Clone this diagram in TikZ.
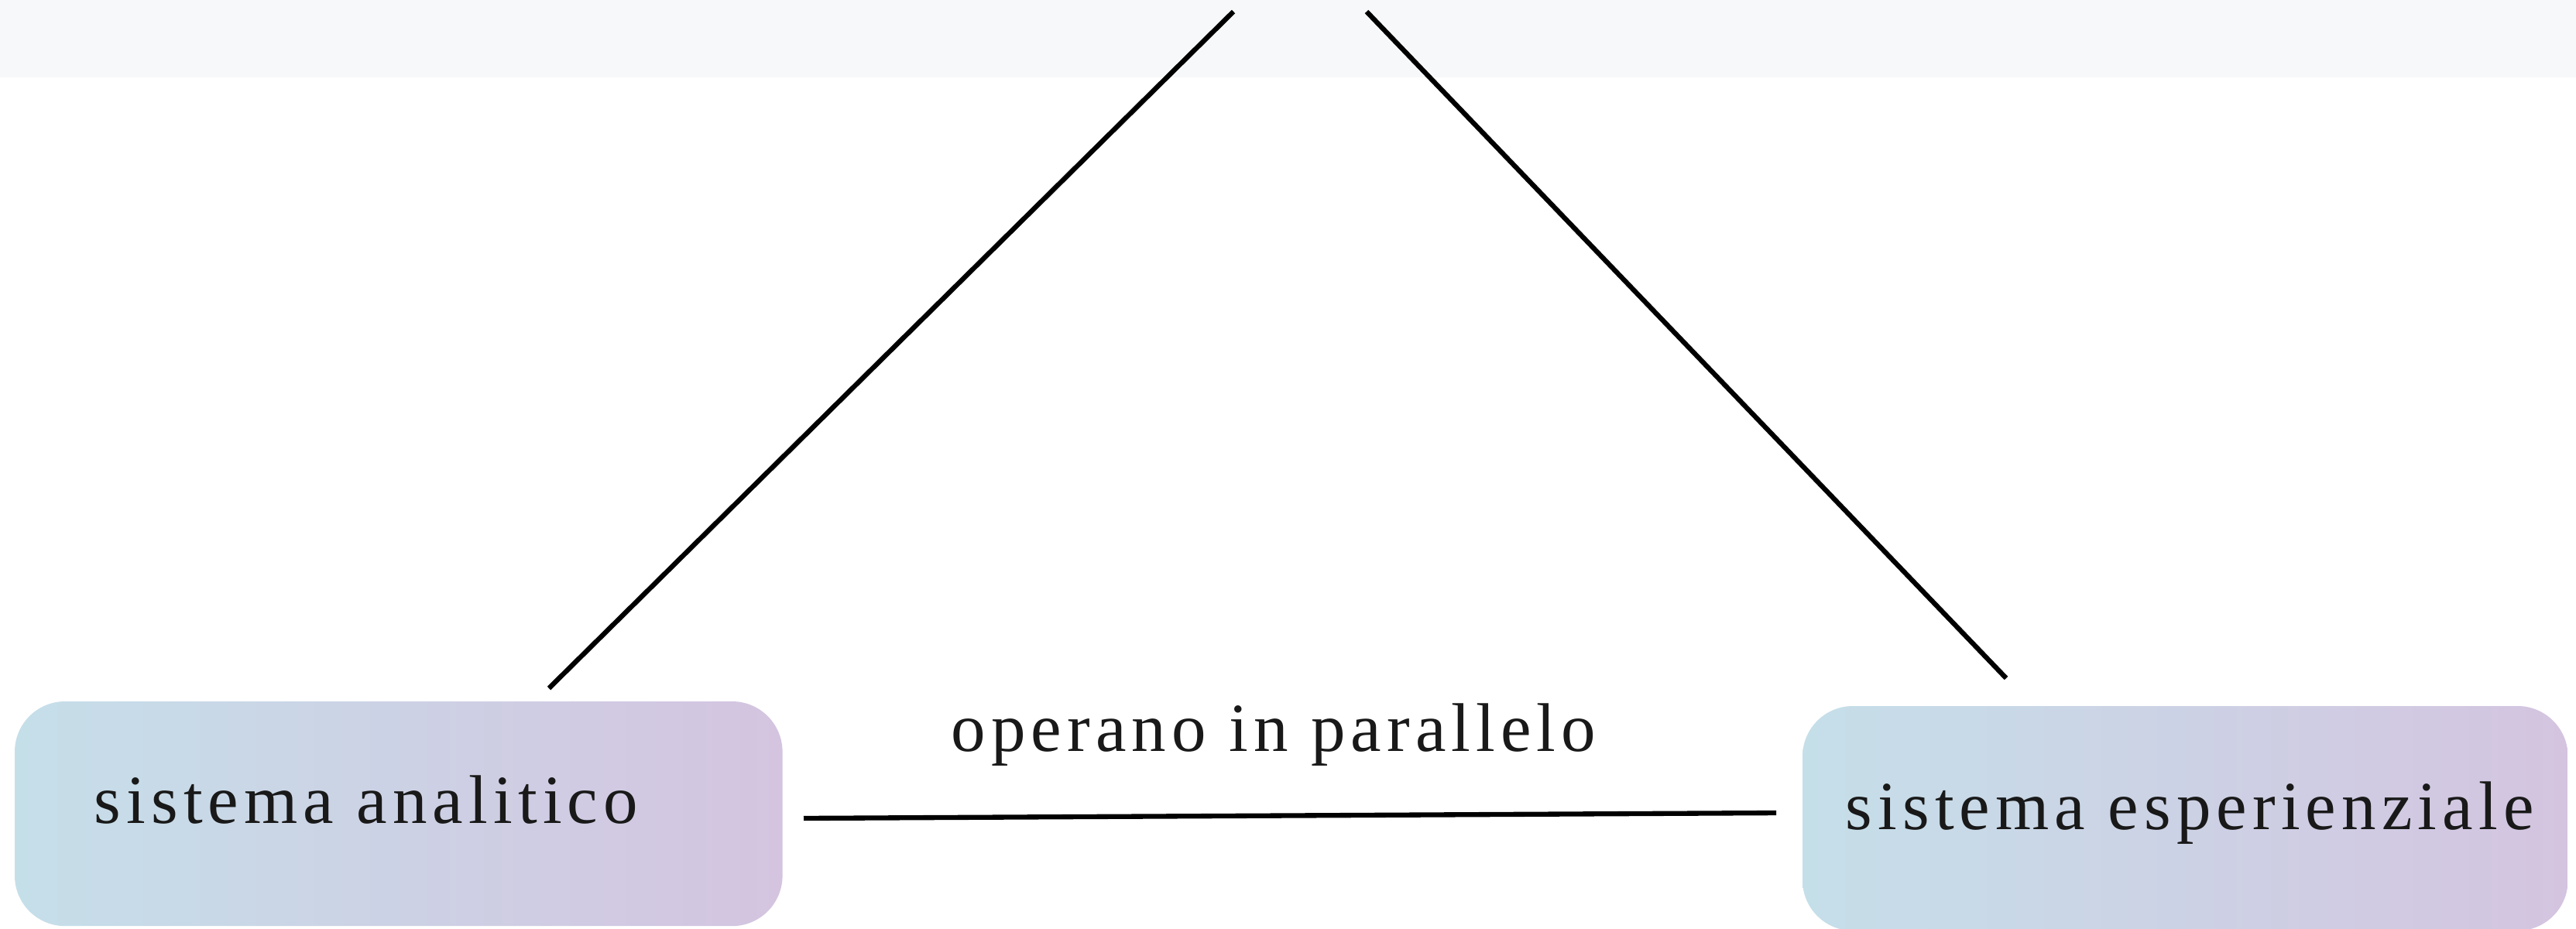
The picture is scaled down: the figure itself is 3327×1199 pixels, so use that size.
\documentclass[tikz,border=0pt]{standalone}
\usepackage{fontspec}
\setmainfont{Liberation Serif}[LetterSpace=8]
\usetikzlibrary{shadings}
\definecolor{bandgray}{HTML}{F7F8F9}
\definecolor{boxblue}{RGB}{197,223,233}
\definecolor{boxpurple}{RGB}{212,196,224}
\tikzset{
  sysbox/.style={draw=none, rounded corners=0.65cm, left color=boxblue, right color=boxpurple, minimum height=2.9cm, inner sep=0pt, outer sep=0pt},
  systext/.style={inner sep=0pt, font=\fontsize{25.3}{30}\selectfont, text=black!90},
  link/.style={line width=1.8pt, black}
}
\begin{document}
\begin{tikzpicture}[x=0.01cm,y=-0.01cm]
\clip (0,0) rectangle (3327,1199);
\useasboundingbox (0,0) rectangle (3327,1199);
\fill[white] (0,0) rectangle (3327,1199);
\fill[bandgray] (0,0) rectangle (3327,100);
% boxes
\node[sysbox, minimum width=9.91cm, anchor=north west] (ana) at (19,906) {};
\node[sysbox, minimum width=9.88cm, anchor=north west] (esp) at (2328,912) {};
\node[systext, anchor=base west] (anat) at (121,1063) {sistema analitico};
\node[systext, anchor=base west] (espt) at (2383,1071) {sistema esperienziale};
\node[systext, anchor=base west] (par) at (1228,970) {operano in parallelo};
% connector end points
\coordinate (topL) at (1593,15);
\coordinate (topR) at (1765,15);
\coordinate (anaTop) at (709,889);
\coordinate (espTop) at (2591,876);
\coordinate (anaR) at (1038,1057);
\coordinate (espL) at (2294,1050);
\draw[link] (topL) -- (anaTop);
\draw[link] (topR) -- (espTop);
\draw[link] (anaR) -- (espL);
\end{tikzpicture}
\end{document}
